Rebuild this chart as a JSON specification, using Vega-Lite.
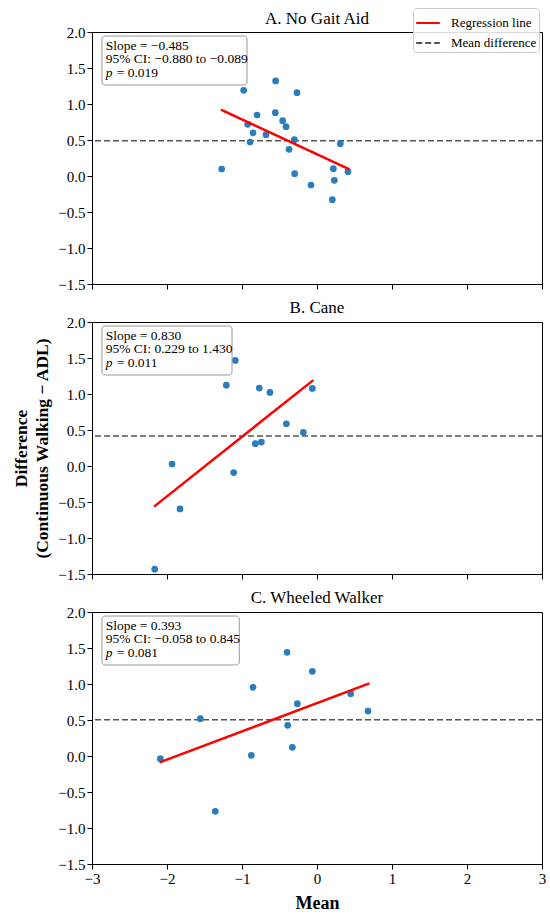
{
  "$schema": "https://vega.github.io/schema/vega-lite/v6.json",
  "background": "white",
  "padding": {"left": 12, "top": 7, "right": 4, "bottom": 5},
  "spacing": 5,
  "config": {
    "font": "Liberation Serif",
    "view": {"stroke": "black", "strokeWidth": 1},
    "axis": {
      "grid": false, "domain": false, "tickColor": "black", "tickSize": 5,
      "labelColor": "black", "labelFontSize": 15, "labelPadding": 2, "titleColor": "black",
      "labelOverlap": false, "labelFlush": false, "labelBound": false
    },
    "title": {"fontSize": 17, "fontWeight": "normal", "color": "black", "offset": 6}
  },
  "resolve": {"scale": {"color": "independent", "strokeDash": "independent"}},
  "datasets": {
    "points": [
      {"panel": "A", "mean": -0.978, "diff": 1.19},
      {"panel": "A", "mean": -0.551, "diff": 1.32},
      {"panel": "A", "mean": -0.267, "diff": 1.157},
      {"panel": "A", "mean": -0.8, "diff": 0.847},
      {"panel": "A", "mean": -0.556, "diff": 0.88},
      {"panel": "A", "mean": -0.458, "diff": 0.769},
      {"panel": "A", "mean": -0.413, "diff": 0.685},
      {"panel": "A", "mean": -0.924, "diff": 0.718},
      {"panel": "A", "mean": -0.853, "diff": 0.6},
      {"panel": "A", "mean": -0.68, "diff": 0.574},
      {"panel": "A", "mean": -0.893, "diff": 0.472},
      {"panel": "A", "mean": -0.302, "diff": 0.505},
      {"panel": "A", "mean": -0.373, "diff": 0.37},
      {"panel": "A", "mean": 0.311, "diff": 0.449},
      {"panel": "A", "mean": -1.271, "diff": 0.097},
      {"panel": "A", "mean": -0.298, "diff": 0.032},
      {"panel": "A", "mean": -0.08, "diff": -0.125},
      {"panel": "A", "mean": 0.218, "diff": 0.102},
      {"panel": "A", "mean": 0.231, "diff": -0.06},
      {"panel": "A", "mean": 0.413, "diff": 0.06},
      {"panel": "A", "mean": 0.204, "diff": -0.329},
      {"panel": "B", "mean": -1.089, "diff": 1.466},
      {"panel": "B", "mean": -1.209, "diff": 1.123},
      {"panel": "B", "mean": -0.769, "diff": 1.082},
      {"panel": "B", "mean": -0.627, "diff": 1.022},
      {"panel": "B", "mean": -0.062, "diff": 1.077},
      {"panel": "B", "mean": -0.409, "diff": 0.587},
      {"panel": "B", "mean": -0.182, "diff": 0.467},
      {"panel": "B", "mean": -0.822, "diff": 0.31},
      {"panel": "B", "mean": -0.742, "diff": 0.333},
      {"panel": "B", "mean": -1.933, "diff": 0.028},
      {"panel": "B", "mean": -1.111, "diff": -0.092},
      {"panel": "B", "mean": -1.827, "diff": -0.596},
      {"panel": "B", "mean": -2.164, "diff": -1.433},
      {"panel": "C", "mean": -0.4, "diff": 1.44},
      {"panel": "C", "mean": -0.062, "diff": 1.176},
      {"panel": "C", "mean": -0.853, "diff": 0.954},
      {"panel": "C", "mean": -0.262, "diff": 0.727},
      {"panel": "C", "mean": 0.449, "diff": 0.866},
      {"panel": "C", "mean": 0.68, "diff": 0.625},
      {"panel": "C", "mean": -1.556, "diff": 0.519},
      {"panel": "C", "mean": -0.391, "diff": 0.426},
      {"panel": "C", "mean": -0.329, "diff": 0.12},
      {"panel": "C", "mean": -0.876, "diff": 0.009},
      {"panel": "C", "mean": -2.089, "diff": -0.037},
      {"panel": "C", "mean": -1.356, "diff": -0.769}
    ],
    "regression": [
      {"panel": "A", "mean": -1.28, "diff": 0.921},
      {"panel": "A", "mean": 0.431, "diff": 0.093},
      {"panel": "B", "mean": -2.173, "diff": -0.564},
      {"panel": "B", "mean": -0.049, "diff": 1.193},
      {"panel": "C", "mean": -2.098, "diff": -0.088},
      {"panel": "C", "mean": 0.698, "diff": 1.009}
    ],
    "meandiff": [
      {"panel": "A", "diff": 0.49},
      {"panel": "B", "diff": 0.416},
      {"panel": "C", "diff": 0.505}
    ],
    "stats": [
      {"panel": "A", "slope": "Slope = −0.485", "ci": "95% CI: −0.880 to −0.089", "p": "= 0.019"},
      {"panel": "B", "slope": "Slope = 0.830", "ci": "95% CI: 0.229 to 1.430", "p": "= 0.011"},
      {"panel": "C", "slope": "Slope = 0.393", "ci": "95% CI: −0.058 to 0.845", "p": "= 0.081"}
    ]
  },
  "vconcat": [
    {
      "title": {"text": "A. No Gait Aid", "dy": 26},
      "width": 450,
      "height": 252,
      "layer": [
        {
          "data": {"name": "meandiff"},
          "transform": [{"filter": "datum.panel === 'A'"}],
          "mark": {"type": "rule", "strokeWidth": 1.5},
          "encoding": {
            "y": {"field": "diff", "type": "quantitative", "scale": {"domain": [-1.5, 2]},
                  "axis": {"title": null, "format": ".1f", "tickCount": 20, "values": [-1.5, -1, -0.5, 0, 0.5, 1, 1.5, 2]}},
            "color": {"datum": "Mean difference", "type": "nominal",
                      "scale": {"domain": ["Regression line", "Mean difference"], "range": ["#ff0000", "#555555"]},
                      "legend": {"title": null}},
            "strokeDash": {"datum": "Mean difference", "type": "nominal",
                      "scale": {"domain": ["Regression line", "Mean difference"], "range": [[1, 0], [6, 3]]},
                      "legend": {"title": null}}
          }
        },
        {
          "data": {"name": "points"},
          "transform": [{"filter": "datum.panel === 'A'"}],
          "mark": {"type": "circle", "size": 45, "color": "#2a7dbd", "opacity": 1},
          "encoding": {
            "x": {"field": "mean", "type": "quantitative", "scale": {"domain": [-3, 3]},
                  "axis": {"labels": false, "title": null, "tickCount": 20, "values": [-3, -2, -1, 0, 1, 2, 3]}},
            "y": {"field": "diff", "type": "quantitative"}
          }
        },
        {
          "data": {"name": "regression"},
          "transform": [{"filter": "datum.panel === 'A'"}],
          "mark": {"type": "line", "strokeWidth": 2.5},
          "encoding": {
            "x": {"field": "mean", "type": "quantitative"},
            "y": {"field": "diff", "type": "quantitative"},
            "color": {"datum": "Regression line", "type": "nominal",
                      "legend": {
                        "title": null, "orient": "none", "legendX": 321, "legendY": -24,
                        "symbolType": "stroke", "symbolStrokeWidth": 2, "symbolSize": 560,
                        "labelFontSize": 13, "labelColor": "black", "labelOffset": 10, "rowPadding": -4,
                        "padding": 2, "fillColor": "rgba(255,255,255,0.85)", "strokeColor": "#cccccc", "cornerRadius": 3
                      }},
            "strokeDash": {"datum": "Regression line", "type": "nominal", "legend": {"title": null}}
          }
        },
        {
          "data": {"name": "stats"},
          "transform": [{"filter": "datum.panel === 'A'"}],
          "mark": {"type": "rect", "fill": "white", "stroke": "#999999", "strokeWidth": 1, "cornerRadius": 3},
          "encoding": {
            "x": {"datum": -2.867, "type": "quantitative"},
            "x2": {"datum": -0.933},
            "y": {"datum": 1.944, "type": "quantitative"},
            "y2": {"datum": 1.264}
          }
        },
        {
          "data": {"name": "stats"},
          "transform": [{"filter": "datum.panel === 'A'"}],
          "mark": {"type": "text", "align": "left", "baseline": "middle", "fontSize": 13.5, "dx": 13.7, "dy": 13.7, "color": "black"},
          "encoding": {"x": {"datum": -3, "type": "quantitative"}, "y": {"datum": 2, "type": "quantitative"}, "text": {"field": "slope"}}
        },
        {
          "data": {"name": "stats"},
          "transform": [{"filter": "datum.panel === 'A'"}],
          "mark": {"type": "text", "align": "left", "baseline": "middle", "fontSize": 13.5, "dx": 13.7, "dy": 27.4, "color": "black"},
          "encoding": {"x": {"datum": -3, "type": "quantitative"}, "y": {"datum": 2, "type": "quantitative"}, "text": {"field": "ci"}}
        },
        {
          "data": {"name": "stats"},
          "transform": [{"filter": "datum.panel === 'A'"}],
          "mark": {"type": "text", "align": "left", "baseline": "middle", "fontSize": 13.5, "fontStyle": "italic", "dx": 13.7, "dy": 41, "color": "black"},
          "encoding": {"x": {"datum": -3, "type": "quantitative"}, "y": {"datum": 2, "type": "quantitative"}, "text": {"value": "p"}}
        },
        {
          "data": {"name": "stats"},
          "transform": [{"filter": "datum.panel === 'A'"}],
          "mark": {"type": "text", "align": "left", "baseline": "middle", "fontSize": 13.5, "dx": 24.7, "dy": 41, "color": "black"},
          "encoding": {"x": {"datum": -3, "type": "quantitative"}, "y": {"datum": 2, "type": "quantitative"}, "text": {"field": "p"}}
        }
      ]
    },
    {
      "title": {"text": "B. Cane", "offset": -2},
      "width": 450,
      "height": 252,
      "layer": [
        {
          "data": {"name": "meandiff"},
          "transform": [{"filter": "datum.panel === 'B'"}],
          "mark": {"type": "rule", "strokeWidth": 1.5, "color": "#555555", "strokeDash": [6, 3]},
          "encoding": {"y": {"field": "diff", "type": "quantitative", "scale": {"domain": [-1.5, 2]},
                  "axis": {"title": ["Difference", "(Continuous Walking − ADL)"], "titleFontSize": 17.5, "titleFontWeight": "bold",
                           "titleLineHeight": 21, "titlePadding": 6, "tickCount": 20,
                           "format": ".1f", "values": [-1.5, -1, -0.5, 0, 0.5, 1, 1.5, 2]}}}
        },
        {
          "data": {"name": "points"},
          "transform": [{"filter": "datum.panel === 'B'"}],
          "mark": {"type": "circle", "size": 45, "color": "#2a7dbd", "opacity": 1},
          "encoding": {
            "x": {"field": "mean", "type": "quantitative", "scale": {"domain": [-3, 3]},
                  "axis": {"labels": false, "title": null, "tickCount": 20, "values": [-3, -2, -1, 0, 1, 2, 3]}},
            "y": {"field": "diff", "type": "quantitative"}
          }
        },
        {
          "data": {"name": "regression"},
          "transform": [{"filter": "datum.panel === 'B'"}],
          "mark": {"type": "line", "strokeWidth": 2.5, "color": "#ff0000"},
          "encoding": {"x": {"field": "mean", "type": "quantitative"}, "y": {"field": "diff", "type": "quantitative"}}
        },
        {
          "data": {"name": "stats"},
          "transform": [{"filter": "datum.panel === 'B'"}],
          "mark": {"type": "rect", "fill": "white", "stroke": "#999999", "strokeWidth": 1, "cornerRadius": 3},
          "encoding": {
            "x": {"datum": -2.867, "type": "quantitative"},
            "x2": {"datum": -1.133},
            "y": {"datum": 1.944, "type": "quantitative"},
            "y2": {"datum": 1.264}
          }
        },
        {
          "data": {"name": "stats"},
          "transform": [{"filter": "datum.panel === 'B'"}],
          "mark": {"type": "text", "align": "left", "baseline": "middle", "fontSize": 13.5, "dx": 13.7, "dy": 13.7, "color": "black"},
          "encoding": {"x": {"datum": -3, "type": "quantitative"}, "y": {"datum": 2, "type": "quantitative"}, "text": {"field": "slope"}}
        },
        {
          "data": {"name": "stats"},
          "transform": [{"filter": "datum.panel === 'B'"}],
          "mark": {"type": "text", "align": "left", "baseline": "middle", "fontSize": 13.5, "dx": 13.7, "dy": 27.4, "color": "black"},
          "encoding": {"x": {"datum": -3, "type": "quantitative"}, "y": {"datum": 2, "type": "quantitative"}, "text": {"field": "ci"}}
        },
        {
          "data": {"name": "stats"},
          "transform": [{"filter": "datum.panel === 'B'"}],
          "mark": {"type": "text", "align": "left", "baseline": "middle", "fontSize": 13.5, "fontStyle": "italic", "dx": 13.7, "dy": 41, "color": "black"},
          "encoding": {"x": {"datum": -3, "type": "quantitative"}, "y": {"datum": 2, "type": "quantitative"}, "text": {"value": "p"}}
        },
        {
          "data": {"name": "stats"},
          "transform": [{"filter": "datum.panel === 'B'"}],
          "mark": {"type": "text", "align": "left", "baseline": "middle", "fontSize": 13.5, "dx": 24.7, "dy": 41, "color": "black"},
          "encoding": {"x": {"datum": -3, "type": "quantitative"}, "y": {"datum": 2, "type": "quantitative"}, "text": {"field": "p"}}
        }
      ]
    },
    {
      "title": {"text": "C. Wheeled Walker", "offset": -2},
      "width": 450,
      "height": 252,
      "layer": [
        {
          "data": {"name": "meandiff"},
          "transform": [{"filter": "datum.panel === 'C'"}],
          "mark": {"type": "rule", "strokeWidth": 1.5, "color": "#555555", "strokeDash": [6, 3]},
          "encoding": {"y": {"field": "diff", "type": "quantitative", "scale": {"domain": [-1.5, 2]},
                  "axis": {"title": null, "format": ".1f", "tickCount": 20, "values": [-1.5, -1, -0.5, 0, 0.5, 1, 1.5, 2]}}}
        },
        {
          "data": {"name": "points"},
          "transform": [{"filter": "datum.panel === 'C'"}],
          "mark": {"type": "circle", "size": 45, "color": "#2a7dbd", "opacity": 1},
          "encoding": {
            "x": {"field": "mean", "type": "quantitative", "scale": {"domain": [-3, 3]},
                  "axis": {"title": "Mean", "titleFontSize": 18, "titleFontWeight": "bold", "titlePadding": 8, "tickCount": 20,
                           "format": "d", "values": [-3, -2, -1, 0, 1, 2, 3]}},
            "y": {"field": "diff", "type": "quantitative"}
          }
        },
        {
          "data": {"name": "regression"},
          "transform": [{"filter": "datum.panel === 'C'"}],
          "mark": {"type": "line", "strokeWidth": 2.5, "color": "#ff0000"},
          "encoding": {"x": {"field": "mean", "type": "quantitative"}, "y": {"field": "diff", "type": "quantitative"}}
        },
        {
          "data": {"name": "stats"},
          "transform": [{"filter": "datum.panel === 'C'"}],
          "mark": {"type": "rect", "fill": "white", "stroke": "#999999", "strokeWidth": 1, "cornerRadius": 3},
          "encoding": {
            "x": {"datum": -2.867, "type": "quantitative"},
            "x2": {"datum": -1.036},
            "y": {"datum": 1.944, "type": "quantitative"},
            "y2": {"datum": 1.264}
          }
        },
        {
          "data": {"name": "stats"},
          "transform": [{"filter": "datum.panel === 'C'"}],
          "mark": {"type": "text", "align": "left", "baseline": "middle", "fontSize": 13.5, "dx": 13.7, "dy": 13.7, "color": "black"},
          "encoding": {"x": {"datum": -3, "type": "quantitative"}, "y": {"datum": 2, "type": "quantitative"}, "text": {"field": "slope"}}
        },
        {
          "data": {"name": "stats"},
          "transform": [{"filter": "datum.panel === 'C'"}],
          "mark": {"type": "text", "align": "left", "baseline": "middle", "fontSize": 13.5, "dx": 13.7, "dy": 27.4, "color": "black"},
          "encoding": {"x": {"datum": -3, "type": "quantitative"}, "y": {"datum": 2, "type": "quantitative"}, "text": {"field": "ci"}}
        },
        {
          "data": {"name": "stats"},
          "transform": [{"filter": "datum.panel === 'C'"}],
          "mark": {"type": "text", "align": "left", "baseline": "middle", "fontSize": 13.5, "fontStyle": "italic", "dx": 13.7, "dy": 41, "color": "black"},
          "encoding": {"x": {"datum": -3, "type": "quantitative"}, "y": {"datum": 2, "type": "quantitative"}, "text": {"value": "p"}}
        },
        {
          "data": {"name": "stats"},
          "transform": [{"filter": "datum.panel === 'C'"}],
          "mark": {"type": "text", "align": "left", "baseline": "middle", "fontSize": 13.5, "dx": 24.7, "dy": 41, "color": "black"},
          "encoding": {"x": {"datum": -3, "type": "quantitative"}, "y": {"datum": 2, "type": "quantitative"}, "text": {"field": "p"}}
        }
      ]
    }
  ]
}
